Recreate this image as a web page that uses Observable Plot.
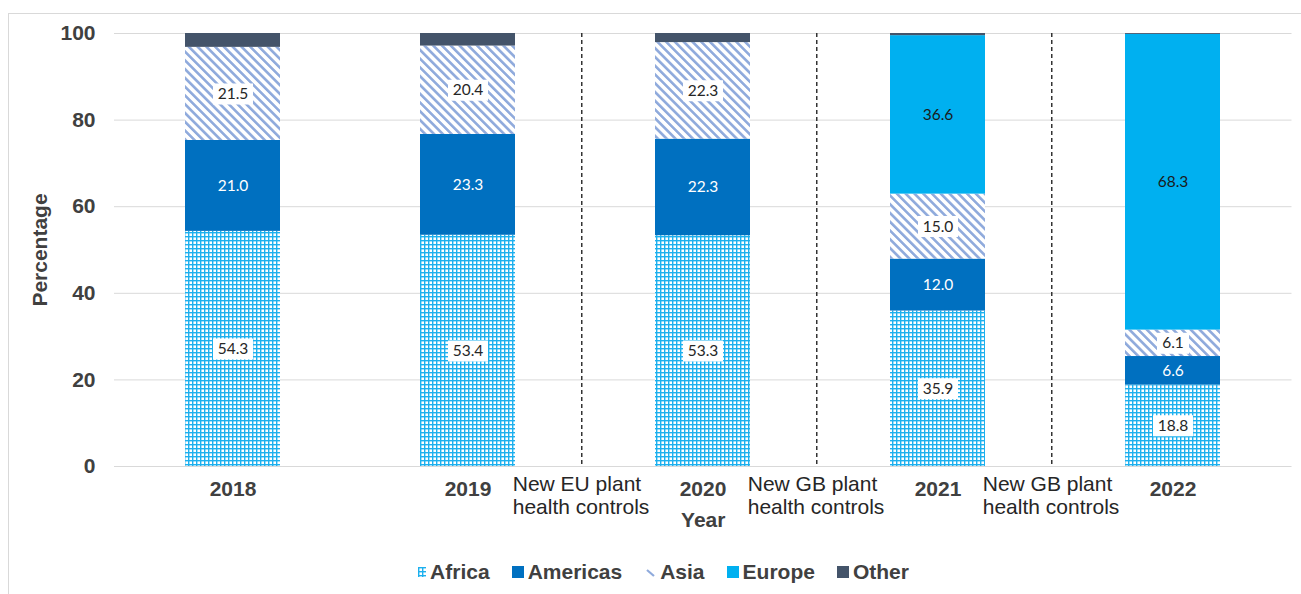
<!DOCTYPE html>
<html>
<head>
<meta charset="utf-8">
<script src="https://cdn.jsdelivr.net/npm/d3@7"></script>
<script src="https://cdn.jsdelivr.net/npm/@observablehq/plot@0.6"></script>
<style>
  html, body { margin: 0; padding: 0; background: #fff; }
  body { width: 1301px; height: 594px; overflow: hidden; position: relative; font-family: "Liberation Sans", Arial, sans-serif; }
  #frame { position: absolute; left: 8px; top: 13px; width: 1320px; height: 700px; border: 1px solid #d9d9d9; pointer-events: none; }
  #chart { position: absolute; left: 0; top: 0; }
  #legend { position: absolute; left: 0; width: 1301px; top: 560px; display: flex; justify-content: center; padding-left: 26px; box-sizing: border-box;
            font-weight: bold; font-size: 21px; color: #404040; }
  .item { display: flex; align-items: center; margin: 0 11px; }
  .item svg { margin-right: 4px; }
</style>
</head>
<body>
<div id="frame"></div>
<div id="chart"></div>
<div id="legend"></div>
<script>
// ---- data ----
const years = ["2018", "2019", "2020", "2021", "2022"];
const regions = ["Africa", "Americas", "Asia", "Europe", "Other"];
const africa   = [54.3, 53.4, 53.3, 35.9, 18.8];
const americas = [21.0, 23.3, 22.3, 12.0, 6.6];
const asia     = [21.5, 20.4, 22.3, 15.0, 6.1];
const europe   = [0.0, 0.0, 0.0, 36.6, 68.3];
const other    = [3.2, 2.9, 2.1, 0.5, 0.2];
const yTicks = [0, 20, 40, 60, 80, 100];
const changeAfter = ["2019", "2020", "2021"];
const changeText = ["New EU plant\nhealth controls", "New GB plant\nhealth controls", "New GB plant\nhealth controls"];

// ---- styling ----
const fills = ["url(#pAfrica)", "#0070C0", "url(#pAsia)", "#00B0F0", "#44546A"];
const labelColor = {Africa: "#262626", Americas: "#ffffff", Asia: "#262626", Europe: "#1a1a1a"};
const boxed = new Set(["Africa", "Asia"]);

const series = [africa, americas, asia, europe, other];
const rows = [];
years.forEach((year, i) => regions.forEach((region, j) => rows.push({year, region, value: series[j][i]})));

// label midpoints from cumulative sums
const labels = [];
years.forEach((year, i) => {
  let base = 0;
  regions.forEach((region, j) => {
    const v = series[j][i];
    if (region !== "Other" && v > 0) labels.push({year, region, mid: base + v / 2, text: v.toFixed(1)});
    base += v;
  });
});
const boxLabels = labels.filter(d => boxed.has(d.region)).map(d => ({...d, w: d.text.length * 8 + 8}));
const changes = changeAfter.map((after, i) => ({after, label: changeText[i]}));

const W = 1301, H = 545, ML = 114, MR = 9.5, MT = 33, MB = 79;
const step = (W - ML - MR) / years.length;

const boxSymbol = {
  draw(ctx, size) {
    const w = Math.sqrt(size / Math.PI);
    ctx.rect(-w / 2, -10.5, w, 21);
  }
};

const chart = Plot.plot({
  width: W, height: H,
  marginTop: MT, marginBottom: MB, marginLeft: ML, marginRight: MR,
  style: {fontFamily: "'Liberation Sans', Arial, sans-serif", fontSize: "21px", color: "#404040", background: "transparent", overflow: "visible"},
  x: {domain: years, paddingInner: 0.597, paddingOuter: 0.2985},
  y: {domain: [0, 100]},
  color: {domain: regions, range: fills},
  r: {type: "identity"},
  marks: [
    Plot.gridY(yTicks, {stroke: "#d9d9d9", strokeOpacity: 1}),
    Plot.barY(rows, {x: "year", y: "value", fill: "region", order: regions}),
    Plot.ruleX(changes, {x: "after", dx: step / 2 - 4, stroke: "#333", strokeWidth: 1.5, strokeDasharray: "4,3"}),
    Plot.text(changes, {x: "after", text: "label", frameAnchor: "bottom", lineAnchor: "top", textAnchor: "start",
      dx: step / 2 - 73, dy: 8, fontSize: 21, lineHeight: 1.1, fill: "#262626"}),
    Plot.dot(boxLabels, {x: "year", y: "mid", r: "w", symbol: boxSymbol, fill: "white", stroke: "none"}),
    Plot.text(labels, {x: "year", y: "mid", text: "text", fill: d => labelColor[d.region],
      fontFamily: "Lato, 'Open Sans', sans-serif", fontSize: 15.5}),
    Plot.axisX({tickSize: 0, tickPadding: 15, fontWeight: "bold", label: "Year", labelAnchor: "center", labelOffset: 60, labelArrow: "none"}),
    Plot.axisY({ticks: yTicks, tickSize: 0, tickPadding: 19, fontWeight: "bold", label: "Percentage", labelAnchor: "center", labelOffset: 82, labelArrow: "none"})
  ]
});

// patterns
const defs = `
<defs>
  <pattern id="pAfrica" patternUnits="userSpaceOnUse" width="4" height="4">
    <rect width="4" height="4" fill="#ffffff"/>
    <rect x="0" y="0" width="1.4" height="4" fill="#1DB0EE"/>
    <rect x="0" y="0" width="4" height="1.4" fill="#1DB0EE"/>
  </pattern>
  <pattern id="pAsia" patternUnits="userSpaceOnUse" width="6.2" height="6.2" patternTransform="rotate(-45)">
    <rect width="6.2" height="6.2" fill="#ffffff"/>
    <rect x="0" y="0" width="2.6" height="6.2" fill="#8FAADC"/>
  </pattern>
</defs>`;
chart.insertAdjacentHTML("afterbegin", defs);
document.getElementById("chart").appendChild(chart);

// legend
const swatch = {
  Africa: `<svg width="8" height="10"><rect width="8" height="10" fill="url(#pAfrica)"/></svg>`,
  Americas: `<svg width="12" height="12"><rect width="12" height="12" fill="#0070C0"/></svg>`,
  Asia: `<svg width="12" height="12"><line x1="3" y1="4" x2="10" y2="10" stroke="#8FAADC" stroke-width="2.2"/></svg>`,
  Europe: `<svg width="12" height="12"><rect width="12" height="12" fill="#00B0F0"/></svg>`,
  Other: `<svg width="12" height="12"><rect width="12" height="12" fill="#44546A"/></svg>`
};
document.getElementById("legend").innerHTML = regions.map(r =>
  `<div class="item">${swatch[r]}<span>${r}</span></div>`).join("");
</script>
</body>
</html>
